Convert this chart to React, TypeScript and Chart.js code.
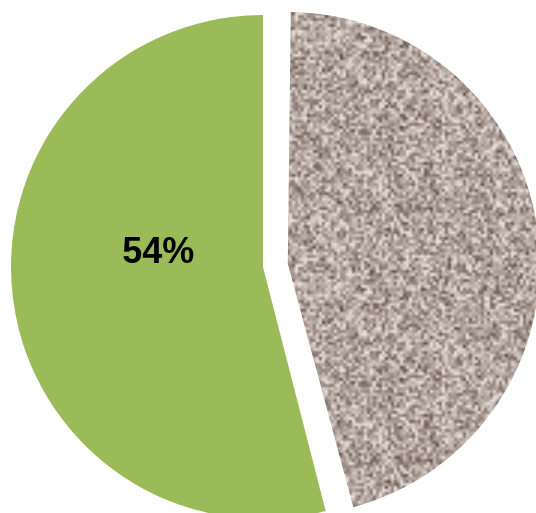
import React, { useEffect, useRef } from "react";
import { Chart, registerables } from "chart.js";

Chart.register(...registerables);

const categories = ["Other", "Share"];
const values = [46, 54];
const showLabel = [false, true];
// Chart.js 4 translates an arc by offset/4, so 100 -> ~25px explode
const explode = [100, 0];

function makeGranite(): CanvasPattern | string {
  const n = 84;
  const s = 3;
  const small = document.createElement("canvas");
  small.width = n;
  small.height = n;
  const sctx = small.getContext("2d");
  if (!sctx) return "#b0a59c";
  const img = sctx.createImageData(n, n);
  let seed = 7654321;
  const rnd = () => {
    seed = (seed * 1103515245 + 12345) & 0x7fffffff;
    return seed / 0x7fffffff;
  };
  const dark = [80, 62, 52];
  const light = [234, 226, 220];
  for (let i = 0; i < n * n; i++) {
    let v = (rnd() + rnd() + rnd()) / 3;
    v = Math.min(1, Math.max(0, (v - 0.5) * 1.35 + 0.64));
    const k = i * 4;
    img.data[k] = dark[0] + (light[0] - dark[0]) * v;
    img.data[k + 1] = dark[1] + (light[1] - dark[1]) * v;
    img.data[k + 2] = dark[2] + (light[2] - dark[2]) * v;
    img.data[k + 3] = 255;
  }
  sctx.putImageData(img, 0, 0);
  // 3x3 tiling so the smoothed enlargement wraps seamlessly
  const tiled = document.createElement("canvas");
  tiled.width = n * 3;
  tiled.height = n * 3;
  const tctx = tiled.getContext("2d");
  if (!tctx) return "#b0a59c";
  for (let a = 0; a < 3; a++) for (let b = 0; b < 3; b++) tctx.drawImage(small, a * n, b * n);
  const bigAll = document.createElement("canvas");
  bigAll.width = n * 3 * s;
  bigAll.height = n * 3 * s;
  const actx = bigAll.getContext("2d");
  if (!actx) return "#b0a59c";
  actx.imageSmoothingEnabled = true;
  actx.drawImage(tiled, 0, 0, bigAll.width, bigAll.height);
  const tile = document.createElement("canvas");
  tile.width = n * s;
  tile.height = n * s;
  const kctx = tile.getContext("2d");
  if (!kctx) return "#b0a59c";
  kctx.drawImage(bigAll, -n * s, -n * s);
  const p = kctx.createPattern(tile, "repeat");
  return p || "#b0a59c";
}

// Keep the exploded slice at the same radius as the others (Chart.js grows it by offset)
const radiusFixPlugin = {
  id: "radiusFix",
  beforeDatasetsDraw(chart: any) {
    const meta = chart.getDatasetMeta(0);
    meta.data.forEach((arc: any, i: number) => {
      const off = (explode[i] || 0) / 4;
      if (!off || arc._fixed) return;
      const fix = 1 - Math.sin(Math.min(Math.PI, arc.circumference || 0));
      arc.outerRadius = arc.outerRadius - off * fix;
      arc._fixed = true;
    });
  },
};

const labelPlugin = {
  id: "sliceLabels",
  afterDatasetsDraw(chart: any) {
    const meta = chart.getDatasetMeta(0);
    const ctx = chart.ctx;
    const data = chart.data.datasets[0].data as number[];
    const total = data.reduce((a, b) => a + b, 0);
    meta.data.forEach((arc: any, i: number) => {
      if (!showLabel[i]) return;
      const { x, y, startAngle, endAngle, outerRadius } = arc.getProps(
        ["x", "y", "startAngle", "endAngle", "outerRadius"],
        true
      );
      const mid = (startAngle + endAngle) / 2 + 0.27;
      const r = outerRadius * 0.42;
      const tx = x + Math.cos(mid) * r;
      const ty = y + Math.sin(mid) * r;
      ctx.save();
      ctx.fillStyle = "#000000";
      ctx.font = "bold 36px 'Liberation Sans', Arial, sans-serif";
      ctx.textAlign = "center";
      ctx.textBaseline = "middle";
      ctx.fillText(Math.round((data[i] / total) * 100) + "%", tx, ty + 1);
      ctx.restore();
    });
  },
};

export default function App() {
  const ref = useRef<HTMLCanvasElement | null>(null);
  useEffect(() => {
    document.body.style.margin = "0";
    if (!ref.current) return;
    const granite = makeGranite();
    const chart = new Chart(ref.current, {
      type: "pie",
      data: {
        labels: categories,
        datasets: [
          {
            data: values,
            backgroundColor: [granite as any, "#9BBB59"],
            borderWidth: 0,
            offset: explode,
            clip: false as any,
          },
        ],
      },
      options: {
        animation: false,
        responsive: false,
        maintainAspectRatio: false,
        radius: 252,
        layout: { padding: { left: 0, right: 10, top: 21, bottom: 0 } },
        plugins: {
          legend: { display: false },
          tooltip: { enabled: false },
        },
      } as any,
      plugins: [radiusFixPlugin, labelPlugin],
    });
    return () => chart.destroy();
  }, []);
  return (
    <div style={{ position: "absolute", left: 0, top: 0, width: 536, height: 513 }}>
      <canvas ref={ref} width={536} height={513} style={{ width: 536, height: 513 }} />
    </div>
  );
}
